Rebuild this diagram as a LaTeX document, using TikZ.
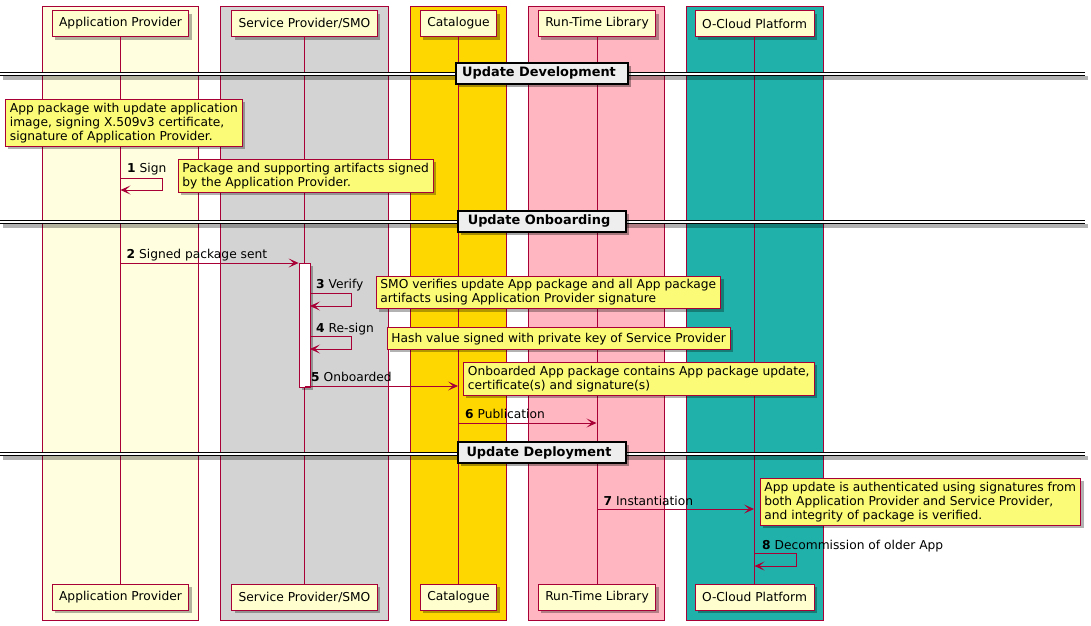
\documentclass[tikz,border=0pt]{standalone}
\usepackage{fontspec}
\setmainfont{DejaVu Sans}
\usetikzlibrary{arrows.meta,shadows,calc}
\definecolor{pborder}{HTML}{A80036}
\definecolor{pfill}{HTML}{FEFECE}
\definecolor{nfill}{HTML}{FBFB77}
\definecolor{gAP}{HTML}{FFFFE0}
\definecolor{gSP}{HTML}{D3D3D3}
\definecolor{gCA}{HTML}{FFD700}
\definecolor{gRT}{HTML}{FFB6C1}
\definecolor{gOC}{HTML}{20B2AA}
\definecolor{dfill}{HTML}{EEEEEE}
\newcommand{\topstrut}{\rule{0pt}{12.5pt}}
\newcommand{\botstrut}{\rule[-1.5pt]{0pt}{1.5pt}}
\tikzset{
  base/.style={font=\fontsize{12.25}{14}\selectfont},
  grp/.style={draw=pborder, line width=0.9pt},
  part/.style={base, draw=pborder, fill=pfill, line width=0.9pt, minimum height=26pt, inner xsep=7pt, inner ysep=0pt,
    drop shadow={shadow xshift=3pt, shadow yshift=-3pt, fill=black, opacity=0.3}},
  life/.style={draw=pborder, line width=0.8pt},
  act/.style={draw=pborder, fill=white, line width=0.8pt, minimum width=11pt, inner sep=0pt,
    drop shadow={shadow xshift=3pt, shadow yshift=-3pt, fill=black, opacity=0.3}},
  msg/.style={draw=pborder, line width=0.8pt, -{Stealth[length=10pt,width=9pt,inset=5pt]}},
  lbl/.style={base, inner sep=0pt, anchor=base west},
  note/.style={base, draw=pborder, fill=nfill, line width=0.8pt, align=left, anchor=north west,
    inner xsep=4.5pt, inner ysep=3.5pt,
    execute at begin node=\topstrut, execute at end node=\botstrut,
    drop shadow={shadow xshift=3pt, shadow yshift=-3pt, fill=black, opacity=0.3}},
  divbox/.style={draw=black, fill=dfill, line width=1.8pt, font=\fontsize{12.9}{15}\selectfont\bfseries,
    minimum height=21pt, inner xsep=6.5pt, inner ysep=0pt,
    drop shadow={shadow xshift=3pt, shadow yshift=-3pt, fill=black, opacity=0.35}},
  divline/.style={draw=black, line width=0.9pt}
}
\begin{document}
\begin{tikzpicture}[x=1pt,y=-1pt]
\useasboundingbox (0,0) rectangle (1091,625);
\fill[white] (0,0) rectangle (1091,625);
% groups
\path[grp, fill=gAP] (42.5,6.5) rectangle (198.5,620);
\path[grp, fill=gSP] (220.5,6.5) rectangle (388.5,620);
\path[grp, fill=gCA] (410.5,6.5) rectangle (506.5,620);
\path[grp, fill=gRT] (528.5,6.5) rectangle (664.5,620);
\path[grp, fill=gOC] (686.5,6.5) rectangle (823.5,620);
% participants top
\node[part] (apT) at (120.5,23.5) {Application Provider};
\node[part] (spT) at (304.5,23.5) {Service Provider/SMO};
\node[part] (caT) at (458.5,23.5) {Catalogue};
\node[part] (rtT) at (597,23.5) {Run-Time Library};
\node[part] (ocT) at (754.5,23.5) {O-Cloud Platform};
% participants bottom
\node[part] (apB) at (120.5,597) {Application Provider};
\node[part] (spB) at (304.5,597) {Service Provider/SMO};
\node[part] (caB) at (458.5,597) {Catalogue};
\node[part] (rtB) at (597,597) {Run-Time Library};
\node[part] (ocB) at (754.5,597) {O-Cloud Platform};
% lifelines
\draw[life] (apT) -- (apB);
\draw[life] (spT) -- (spB);
\draw[life] (caT) -- (caB);
\draw[life] (rtT) -- (rtB);
\draw[life] (ocT) -- (ocB);
% dividers
\foreach \y/\nm/\txt in {72.5/d1/Update Development, 220.5/d2/Update Onboarding, 452/d3/Update Deployment}{
  \fill[black, opacity=0.3] (3,\y+3.5) rectangle (1088,\y+7.5);
  \fill[white] (0,\y) rectangle (1085,\y+3.3);
  \draw[divline] (0,\y) -- (1085,\y);
  \draw[divline] (0,\y+3.3) -- (1085,\y+3.3);
  \node[divbox, minimum width=168pt] (\nm) at (542,\y+0.8) {\txt\hspace*{6pt}};
}
% note 1
\node[note] (n1) at (5,99) {App package with update application\\image, signing X.509v3 certificate,\\signature of Application Provider.};
% message 1 (self)
\coordinate (m1) at (120.5,178);
\draw[msg] (m1) -- ++(41.5,0) -- ++(0,12) -- ++(-41.5,0);
\node[lbl] (l1) at (127,172) {\textbf{1} Sign};
\node[note] (n2) at (177.5,159) {Package and supporting artifacts signed\\by the Application Provider.};
% activation
\node[act, minimum height=124pt, anchor=north] (act) at (304.5,262.5) {};
% message 2
\coordinate (m2) at (120.5,263);
\draw[msg] (m2) -- (m2 -| act.west);
\node[lbl] (l2) at (126.5,258) {\textbf{2} Signed package sent};
% message 3
\coordinate (m3) at (310,293.5);
\draw[msg] (m3) -- ++(41.5,0) -- ++(0,12.5) -- ++(-41.5,0);
\node[lbl] (l3) at (316,288.5) {\textbf{3} Verify};
\node[note] (n3) at (375.5,275.5) {SMO verifies update App package and all App package\\artifacts using Application Provider signature};
% message 4
\coordinate (m4) at (310,336.5);
\draw[msg] (m4) -- ++(41.5,0) -- ++(0,12.5) -- ++(-41.5,0);
\node[lbl] (l4) at (316,332) {\textbf{4} Re-sign};
\node[note] (n4) at (386.5,326.5) {Hash value signed with private key of Service Provider};
% message 5
\coordinate (m5) at (304.5,386);
\draw[msg] (m5) -- (458,386);
\node[lbl] (l5) at (311,381.5) {\textbf{5} Onboarded};
\node[note] (n5) at (463,362) {Onboarded App package contains App package update,\\certificate(s) and signature(s)};
% message 6
\coordinate (m6) at (458.5,423);
\draw[msg] (m6) -- (596.5,423);
\node[lbl] (l6) at (465,418.5) {\textbf{6} Publication};
% message 7
\coordinate (m7) at (597,509);
\draw[msg] (m7) -- (754,509);
\node[lbl] (l7) at (603.5,505) {\textbf{7} Instantiation};
\node[note] (n7) at (759.5,478) {App update is authenticated using signatures from\\both Application Provider and Service Provider,\\and integrity of package is verified.};
% message 8
\coordinate (m8) at (754.5,553.5);
\draw[msg] (m8) -- ++(42,0) -- ++(0,12.5) -- ++(-42,0);
\node[lbl] (l8) at (762,549.5) {\textbf{8} Decommission of older App};
\end{tikzpicture}
\end{document}
